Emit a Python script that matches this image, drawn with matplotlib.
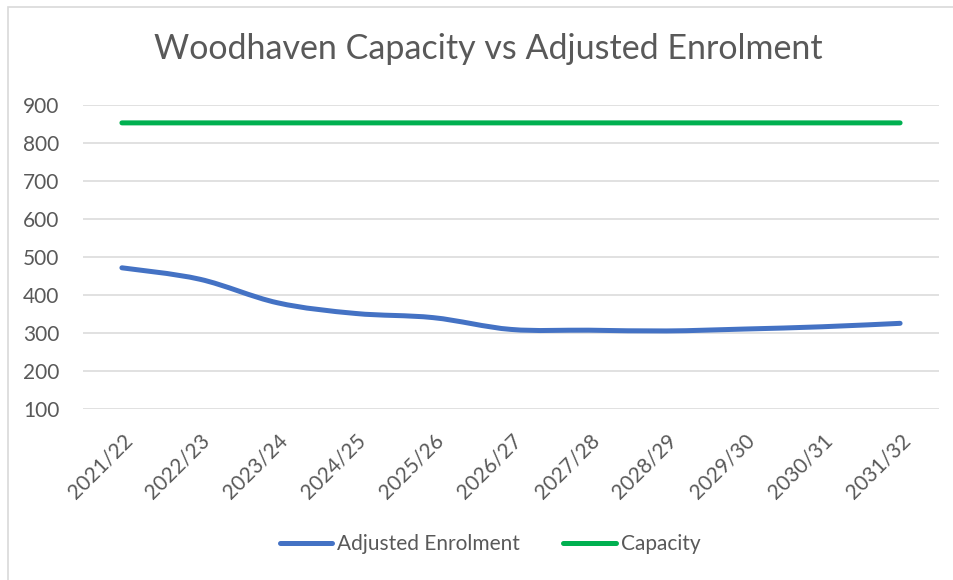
import matplotlib
matplotlib.use("Agg")
import matplotlib.pyplot as plt
from matplotlib.path import Path
from matplotlib.patches import PathPatch, Rectangle
from matplotlib.lines import Line2D
import numpy as np

years = ["2021/22", "2022/23", "2023/24", "2024/25", "2025/26", "2026/27",
         "2027/28", "2028/29", "2029/30", "2030/31", "2031/32"]
adjusted_enrolment = [472, 442, 380, 352, 341, 310, 308, 306, 311, 317, 326]
capacity = [853, 853, 853, 853, 853, 853, 853, 853, 853, 853, 853]

BLUE = "#4472C4"
GREEN = "#00B050"
GREY = "#595959"
FONT = ["Lato", "DejaVu Sans"]

fig = plt.figure(figsize=(9.54, 5.8), dpi=100)
fig.patch.set_facecolor("white")
# chart-area border (left and top visible)
fig.add_artist(Rectangle((8 / 954, -0.1), 1.2, 1 - 7 / 580 + 0.1,
                         transform=fig.transFigure, fill=False,
                         edgecolor="#D9D9D9", linewidth=1.2))

ax = fig.add_axes([83 / 954, 1 - 409.3 / 580, (939 - 83) / 954, (409.3 - 105) / 580])
x = np.arange(len(years))


def smooth_path(xs, ys):
    pts = np.column_stack([xs, ys]).astype(float)
    verts = [tuple(pts[0])]
    codes = [Path.MOVETO]
    n = len(pts)
    for i in range(n - 1):
        p0 = pts[i - 1] if i > 0 else pts[i]
        p1 = pts[i]
        p2 = pts[i + 1]
        p3 = pts[i + 2] if i + 2 < n else pts[i + 1]
        c1 = p1 + (p2 - p0) / 6.0
        c2 = p2 - (p3 - p1) / 6.0
        verts += [tuple(c1), tuple(c2), tuple(p2)]
        codes += [Path.CURVE4] * 3
    return Path(verts, codes)


for vals, col in [(adjusted_enrolment, BLUE), (capacity, GREEN)]:
    ax.add_patch(PathPatch(smooth_path(x, vals), fill=False, edgecolor=col,
                           linewidth=3.6, capstyle="round", joinstyle="round",
                           zorder=3))

ax.set_xlim(-0.5, len(years) - 0.5)
ax.set_ylim(100, 900)
ax.set_yticks(range(100, 901, 100))
ax.set_xticks(x)
ax.set_xticklabels(years, rotation=45, ha="right", va="top",
                   rotation_mode="anchor", fontsize=15, color=GREY, family=FONT)
for lab in ax.get_xticklabels():
    lab.set_x(lab.get_position()[0])
for lab in ax.get_yticklabels():
    lab.set_family(FONT)
ax.tick_params(axis="y", length=0, pad=17, labelsize=15, labelcolor=GREY)
ax.tick_params(axis="x", length=0, pad=15)
ax.grid(axis="y", color="#D9D9D9", linewidth=1.1)
ax.set_axisbelow(True)
for s in ax.spines.values():
    s.set_visible(False)

fig.text(488 / 954, 1 - 49 / 580, "Woodhaven Capacity vs Adjusted Enrolment",
         ha="center", va="center", fontsize=24.5, color=GREY, family=FONT)

handles = [Line2D([], [], color=BLUE, linewidth=3.6, solid_capstyle="round"),
           Line2D([], [], color=GREEN, linewidth=3.6, solid_capstyle="round")]
fig.legend(handles, ["Adjusted Enrolment", "Capacity"], loc="center",
           bbox_to_anchor=(490 / 954, 1 - 544 / 580), ncol=2, frameon=False,
           prop={"family": FONT, "size": 15}, labelcolor=GREY,
           handlelength=2.5, handletextpad=0.25, columnspacing=2.1)

fig.savefig("out.png", dpi=100, facecolor="white")
